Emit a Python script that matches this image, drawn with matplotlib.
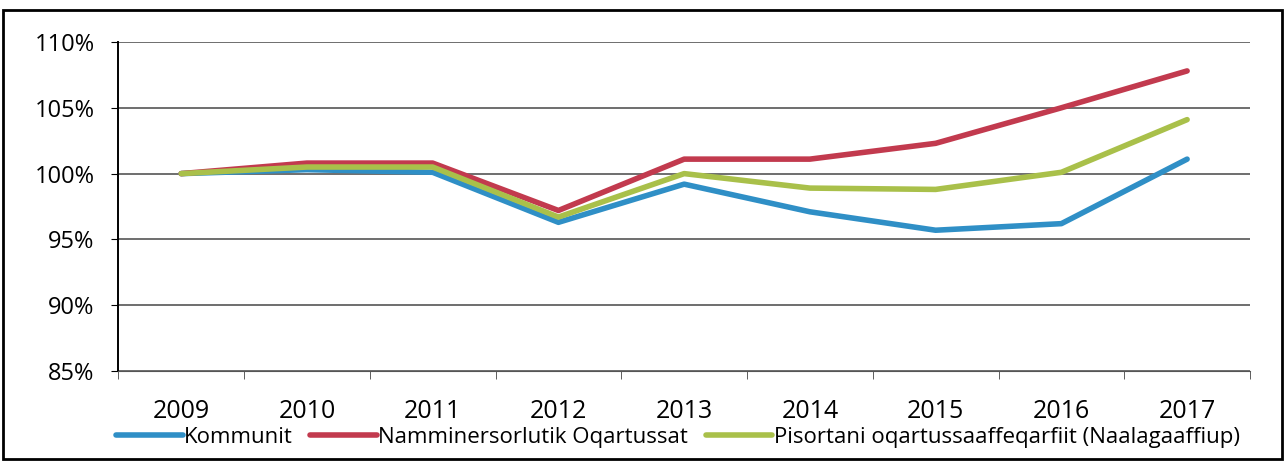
import matplotlib.pyplot as plt
from matplotlib.patches import Rectangle
from matplotlib.ticker import FixedLocator

plt.rcParams['font.family'] = ['Open Sans', 'DejaVu Sans']

years = ['2009', '2010', '2011', '2012', '2013', '2014', '2015', '2016', '2017']
kommunit = [100.0, 100.3, 100.1, 96.3, 99.2, 97.1, 95.7, 96.2, 101.1]
namminersorlutik = [100.0, 100.8, 100.8, 97.2, 101.1, 101.1, 102.3, 105.0, 107.8]
pisortani = [100.0, 100.5, 100.5, 96.7, 100.0, 98.9, 98.8, 100.1, 104.1]
yticks = [85, 90, 95, 100, 105, 110]

fig = plt.figure(figsize=(12.86, 4.61), dpi=100)
ax = fig.add_axes([0.092, 0.195, 0.88, 0.714])

x = range(len(years))
ax.plot(x, kommunit, color='#2f8fc6', lw=4, label='Kommunit', solid_capstyle='round')
ax.plot(x, namminersorlutik, color='#c23a4e', lw=4, label='Namminersorlutik Oqartussat', solid_capstyle='round')
ax.plot(x, pisortani, color='#a9c04a', lw=4, label='Pisortani oqartussaaffeqarfiit (Naalagaaffiup)', solid_capstyle='round')

ax.set_xlim(-0.5, len(years) - 0.5)
ax.set_ylim(85, 110)
ax.set_yticks(yticks)
ax.set_yticklabels([f'{v}%' for v in yticks], fontsize=17)
ax.set_xticks(list(x))
ax.set_xticklabels(years, fontsize=18)
ax.tick_params(axis='x', length=0, pad=20)
ax.xaxis.set_minor_locator(FixedLocator([i - 0.5 for i in range(len(years) + 1)]))
ax.tick_params(axis='x', which='minor', length=6, direction='out', color='#444444')
ax.tick_params(axis='y', length=5, direction='out', pad=12)
ax.grid(axis='y', color='#555555', lw=1.2)
ax.set_axisbelow(True)
for s in ['top', 'right']:
    ax.spines[s].set_visible(False)
ax.spines['left'].set_linewidth(1.4)
ax.spines['bottom'].set_color('#555555')

fig.legend(loc='lower center', bbox_to_anchor=(0.527, -0.015), ncol=3, frameon=False,
           fontsize=16, handlelength=3.0, handletextpad=0.05, columnspacing=0.8)

fig.patches.append(Rectangle((0.002, 0.004), 0.995, 0.975, transform=fig.transFigure,
                             fill=False, edgecolor='black', lw=2))

fig.savefig('out.png', dpi=100)
